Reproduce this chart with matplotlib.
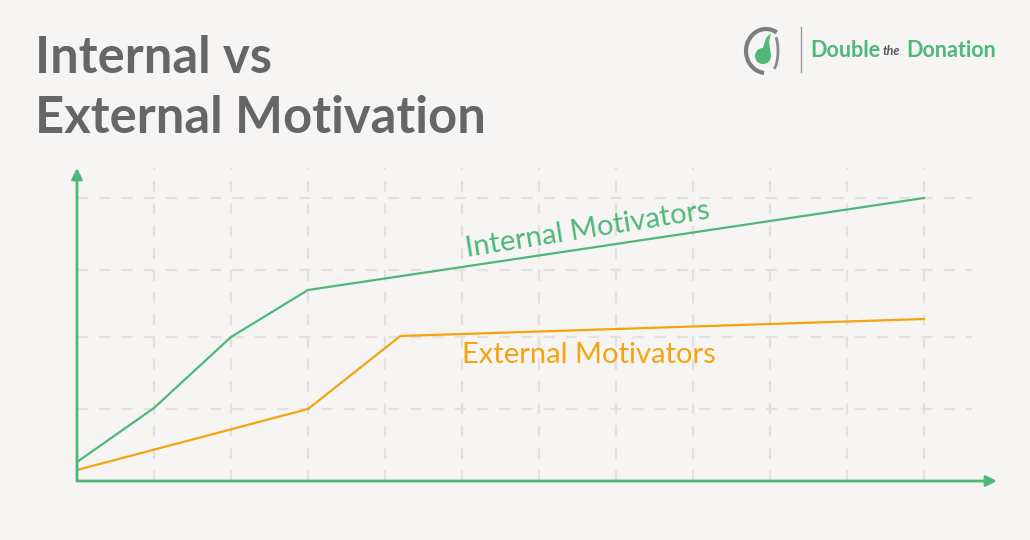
import matplotlib.pyplot as plt
from matplotlib.patches import Arc, Circle, Polygon

# data (x = step index along the time axis, y = motivation level)
internal_x = [0, 1, 2, 3, 11]
internal_y = [19, 73, 144, 191, 283]
external_x = [0, 3, 4.2, 11]
external_y = [11, 72, 145, 162]
grid_x = [1, 2, 3, 4, 5, 6, 7, 8, 9, 10, 11]
grid_y = [72, 144, 211, 283]

BG = '#f6f5f3'
GREEN = '#4db879'
ORANGE = '#f5a30f'
GRID = '#e2e1df'
TITLE = '#666666'

plt.rcParams['font.family'] = ['Lato', 'DejaVu Sans']
plt.rcParams['lines.scale_dashes'] = False

fig = plt.figure(figsize=(10.3, 5.4), dpi=100, facecolor=BG)

# overlay in pixel coordinates for title and logo
deco = fig.add_axes([0, 0, 1, 1])
deco.set_xlim(0, 1030)
deco.set_ylim(540, 0)
deco.axis('off')
deco.patch.set_alpha(0)

deco.text(35, 73, 'Internal vs', fontsize=36.5, fontweight='bold', color=TITLE, va='baseline')
deco.text(35, 133, 'External Motivation', fontsize=36.5, fontweight='bold', color=TITLE, va='baseline')

# logo
deco.add_patch(Arc((766, 51), 40, 44, theta1=95, theta2=300, color='#7d7d7d', lw=3))
deco.add_patch(Arc((771, 51), 14, 40, theta1=-70, theta2=80, color='#8a8a8a', lw=2))
deco.add_patch(Circle((763, 56), 8, color=GREEN, lw=0))
deco.add_patch(Polygon([[763, 48], [766, 38], [771, 33], [769, 42], [771, 56]], color=GREEN, lw=0))
deco.plot([801, 801], [27, 72], color='#9a9a9a', lw=1)
deco.text(810, 57, 'Double', fontsize=15.5, fontweight='bold', color=GREEN, va='baseline')
deco.text(883, 55, 'the', fontsize=9, fontstyle='italic', fontweight='bold', color='#555555', va='baseline')
deco.text(906, 57, 'Donation', fontsize=15.5, fontweight='bold', color=GREEN, va='baseline')

# main chart
ax = fig.add_axes([77 / 1030, 59 / 540, 920 / 1030, 313 / 540])
ax.patch.set_alpha(0)
ax.set_xlim(0, 920 / 77)
ax.set_ylim(0, 313)
for s in ax.spines.values():
    s.set_visible(False)
ax.set_xticks([])
ax.set_yticks([])

for gx in grid_x:
    ax.plot([gx, gx], [0, 313], color=GRID, lw=1.6, ls=(0, (8, 8)), zorder=1)
for gy in grid_y:
    ax.plot([0, 11.62], [gy, gy], color=GRID, lw=1.6, ls=(0, (8, 8)), zorder=1)

ax.plot(internal_x, internal_y, color=GREEN, lw=1.6, zorder=3)
ax.plot(external_x, external_y, color=ORANGE, lw=1.6, zorder=3)

ax.text(5.06, 224, 'Internal Motivators', color=GREEN, fontsize=21, rotation=9,
        rotation_mode='anchor', ha='left', va='baseline')
ax.text(5.0, 118, 'External Motivators', color=ORANGE, fontsize=21,
        ha='left', va='baseline')

# axis arrows
ax.annotate('', xy=(1, 0), xytext=(0, 0), xycoords='axes fraction',
            arrowprops=dict(arrowstyle='-|>', color=GREEN, lw=2, mutation_scale=16, shrinkA=0, shrinkB=0))
ax.annotate('', xy=(0, 1), xytext=(0, 0), xycoords='axes fraction',
            arrowprops=dict(arrowstyle='-|>', color=GREEN, lw=2, mutation_scale=16, shrinkA=0, shrinkB=0))

fig.savefig('out.png', dpi=100, facecolor=BG)
